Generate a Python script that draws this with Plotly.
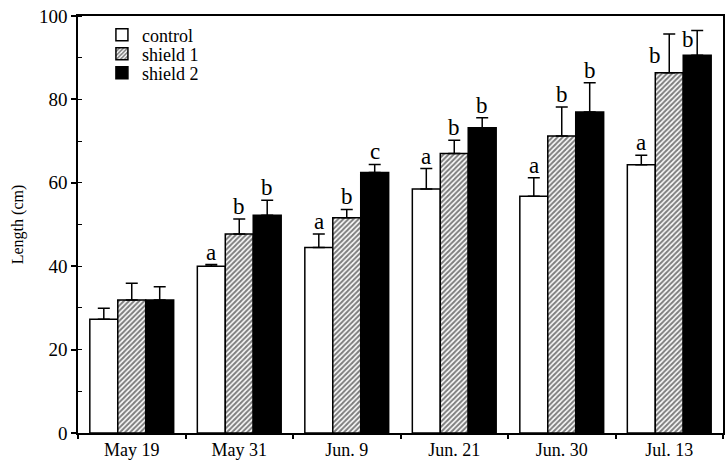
import plotly.graph_objects as go

categories = ["May 19", "May 31", "Jun. 9", "Jun. 21", "Jun. 30", "Jul. 13"]
control = [27.3, 40.0, 44.5, 58.5, 56.8, 64.3]
control_err = [2.6, 0.4, 3.2, 4.9, 4.4, 2.3]
shield1 = [31.9, 47.7, 51.6, 67.0, 71.2, 86.4]
shield1_err = [4.0, 3.6, 2.0, 3.2, 7.0, 9.3]
shield2 = [31.9, 52.2, 62.5, 73.2, 77.0, 90.6]
shield2_err = [3.2, 3.6, 1.9, 2.4, 7.0, 5.9]
control_letters = ["", "a", "a", "a", "a", "a"]
shield1_letters = ["", "b", "b", "b", "b", "b"]
shield2_letters = ["", "b", "c", "b", "b", "b"]
y_ticks = [0, 20, 40, 60, 80, 100]

W, H = 726, 463
ML, MR, MT, MB = 78, 1, 16, 30
BARGAP = 0.22
FONT = "Liberation Serif, Times New Roman, serif"

plot_w = W - ML - MR
plot_h = H - MT - MB
slot_px = plot_w / len(categories)
bar_px = slot_px * (1 - BARGAP) / 3

series = [
    ("control", control, control_err, control_letters,
     dict(color="white", line=dict(color="black", width=1.5))),
    ("shield 1", shield1, shield1_err, shield1_letters,
     dict(color="white", line=dict(color="black", width=1.5),
          pattern=dict(shape="/", fgcolor="black", bgcolor="white",
                       size=3.6, solidity=0.55, fillmode="overlay"))),
    ("shield 2", shield2, shield2_err, shield2_letters,
     dict(color="black", line=dict(color="black", width=1.5))),
]

fig = go.Figure()
legend_ids = ["legend", "legend2", "legend3"]
for i, (name, vals, errs, letters, marker) in enumerate(series):
    fig.add_trace(go.Bar(
        x=categories, y=vals, name=name, marker=marker,
        legend=legend_ids[i], showlegend=True,
        error_y=dict(type="data", symmetric=False, array=errs,
                     arrayminus=[0] * len(errs), color="black",
                     thickness=1.5, width=6),
    ))

# letters above bars
annotations = []
# (series, category): (xshift relative to category centre, yshift), anchored at bar top
special = {(1, 5): (-14, 3), (2, 5): (19, 1)}
for i, (name, vals, errs, letters, marker) in enumerate(series):
    for j, cat in enumerate(categories):
        if not letters[j]:
            continue
        if (i, j) in special:
            xs, dy = special[(i, j)]
            yv = vals[j]
        else:
            xs = (i - 1) * bar_px
            dy = -2
            yv = vals[j] + errs[j]
        annotations.append(dict(
            x=cat, y=yv, text=letters[j], showarrow=False,
            xref="x", yref="y", xanchor="center", yanchor="bottom",
            xshift=xs, yshift=dy,
            font=dict(family=FONT, size=23, color="black"),
        ))

leg_common = dict(xanchor="left", yanchor="middle", bgcolor="rgba(0,0,0,0)",
                  borderwidth=0, visible=True,
                  font=dict(family=FONT, size=18, color="black"))
def py2paper(py):
    return (H - MB - py) / plot_h

leg_x = (102 - ML) / plot_w
fig.update_layout(
    width=W, height=H,
    margin=dict(l=ML, r=MR, t=MT, b=MB, pad=0),
    paper_bgcolor="white", plot_bgcolor="white",
    barmode="group", bargap=BARGAP, bargroupgap=0,
    font=dict(family=FONT, size=18, color="black"),
    annotations=annotations,
    showlegend=True,
    legend=dict(x=leg_x, y=py2paper(35), **leg_common),
    legend2=dict(x=leg_x, y=py2paper(54), **leg_common),
    legend3=dict(x=leg_x, y=py2paper(73), **leg_common),
    xaxis=dict(
        type="category", range=[-0.5, len(categories) - 0.5],
        showline=True, linecolor="black", linewidth=1.5, mirror=True,
        ticks="outside", tickson="boundaries", ticklen=4, tickwidth=1.5,
        tickcolor="black", showgrid=False, zeroline=False,
        tickfont=dict(family=FONT, size=18),
    ),
    yaxis=dict(
        range=[0, 100], tickvals=y_ticks,
        showline=True, linecolor="black", linewidth=1.5, mirror=True,
        ticks="outside", ticklen=5, tickwidth=1.5, tickcolor="black",
        minor=dict(dtick=10, ticks="inside", ticklen=4, tickwidth=1.2,
                   tickcolor="black", showgrid=False),
        showgrid=False, zeroline=False,
        tickfont=dict(family=FONT, size=19),
        title=dict(text="Length (cm)", font=dict(family=FONT, size=16),
                   standoff=11),
    ),
)

fig.write_html("out.html")
